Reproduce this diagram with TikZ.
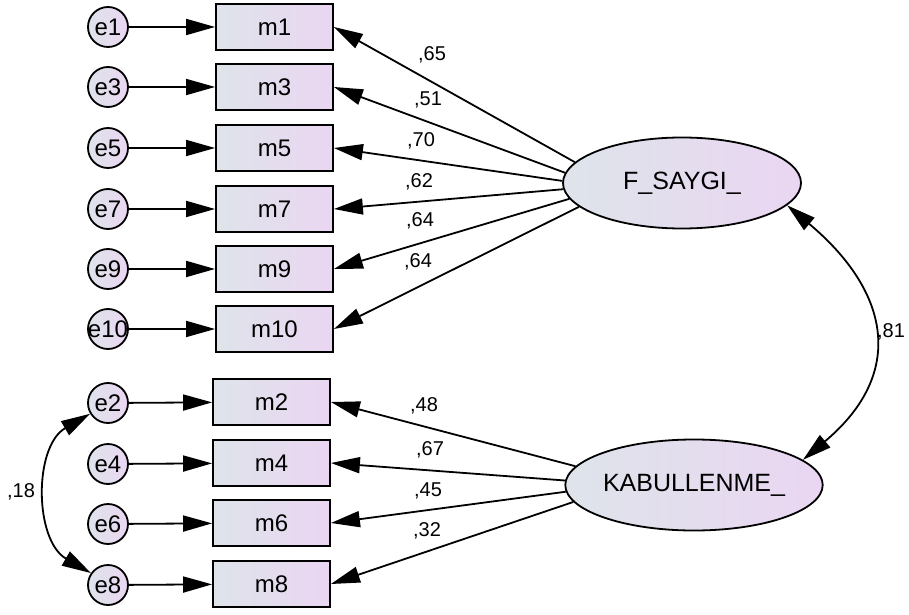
\documentclass[tikz,border=0pt]{standalone}
\usepackage{fontspec}
\setmainfont{Liberation Sans}
\usetikzlibrary{arrows.meta,shapes.geometric}
\definecolor{fillleft}{RGB}{222,228,234}
\definecolor{fillright}{RGB}{234,214,242}
\begin{document}
\begin{tikzpicture}[x=1pt,y=1pt,
    err/.style={circle,draw,line width=1.8pt,minimum size=40pt,inner sep=0pt,left color=fillleft,right color=fillright,font=\fontsize{24}{24}\selectfont},
    obs/.style={rectangle,draw,line width=1.8pt,minimum width=117pt,minimum height=46pt,inner sep=0pt,left color=fillleft,right color=fillright,font=\fontsize{24}{24}\selectfont},
    lat/.style={ellipse,draw,line width=1.8pt,minimum width=238pt,minimum height=91pt,inner sep=0pt,left color=fillleft,right color=fillright,font=\fontsize{25}{25}\selectfont},
    arr/.style={line width=1.8pt,-{Triangle[length=29pt,width=16pt]}},
    cov/.style={line width=1.8pt,{Triangle[length=29pt,width=16pt]}-{Triangle[length=29pt,width=16pt]}},
    lbl/.style={font=\fontsize{20}{20}\selectfont}]
    \useasboundingbox (0,0) rectangle (909,614);
    \node[err] (e1) at (108,587) {e1};
    \node[err] (e3) at (108,527) {e3};
    \node[err] (e5) at (108,466) {e5};
    \node[err] (e7) at (108,405) {e7};
    \node[err] (e9) at (108,345) {e9};
    \node[err] (e10) at (108,285) {\makebox[0pt]{e10}};
    \node[err] (e2) at (108,211) {e2};
    \node[err] (e4) at (108,150) {e4};
    \node[err] (e6) at (108,90) {e6};
    \node[err] (e8) at (108,29) {e8};
    \node[obs] (m1) at (274.5,587) {m1};
    \node[obs] (m3) at (274.5,527) {m3};
    \node[obs] (m5) at (274.5,466) {m5};
    \node[obs] (m7) at (274.5,405) {m7};
    \node[obs] (m9) at (274.5,345) {m9};
    \node[obs] (m10) at (274.5,285) {m10};
    \node[obs] (m2) at (271.5,212) {m2};
    \node[obs] (m4) at (271.5,151) {m4};
    \node[obs] (m6) at (271.5,91) {m6};
    \node[obs] (m8) at (271.5,30) {m8};
    \node[lat] (fsaygi) at (682,431) {F\_SAYGI\_};
    \node[lat] (kabul) at (694,129) {KABULLENME\_};
    \draw[arr] (e1) -- (m1);
    \draw[arr] (e3) -- (m3);
    \draw[arr] (e5) -- (m5);
    \draw[arr] (e7) -- (m7);
    \draw[arr] (e9) -- (m9);
    \draw[arr] (e10) -- (m10);
    \draw[arr] (e2) -- (m2);
    \draw[arr] (e4) -- (m4);
    \draw[arr] (e6) -- (m6);
    \draw[arr] (e8) -- (m8);
    \draw[arr] (fsaygi.169) -- (m1.east);
    \draw[arr] (fsaygi.175.5) -- (m3.east);
    \draw[arr] (fsaygi.179) -- (m5.east);
    \draw[arr] (fsaygi.183) -- (m7.east);
    \draw[arr] (fsaygi.188) -- (m9.east);
    \draw[arr] (fsaygi.193) -- (m10.east);
    \draw[arr] (kabul.171.5) -- (m2.east);
    \draw[arr] (kabul.178.5) -- (m4.east);
    \draw[arr] (kabul.183.4) -- (m6.east);
    \draw[arr] (kabul.188) -- (m8.east);
    \draw[cov] (fsaygi.-12) to[out=-40,in=40,looseness=1.35] (kabul.13);
    \draw[cov] (e2.211) to[out=210,in=150,looseness=1.05] (e8.145);
    \node[lbl] (l65) at (432,559) {,65};
    \node[lbl] (l51) at (428,514) {,51};
    \node[lbl] (l70) at (421,473) {,70};
    \node[lbl] (l62) at (419,432) {,62};
    \node[lbl] (l64a) at (420,393) {,64};
    \node[lbl] (l64b) at (418,352) {,64};
    \node[lbl] (l48) at (424,208) {,48};
    \node[lbl] (l67) at (430,164) {,67};
    \node[lbl] (l45) at (428,123) {,45};
    \node[lbl] (l32) at (427,83) {,32};
    \node[lbl] (l81) at (891,282) {,81};
    \node[lbl] (l18) at (21,122) {,18};
\end{tikzpicture}
\end{document}
